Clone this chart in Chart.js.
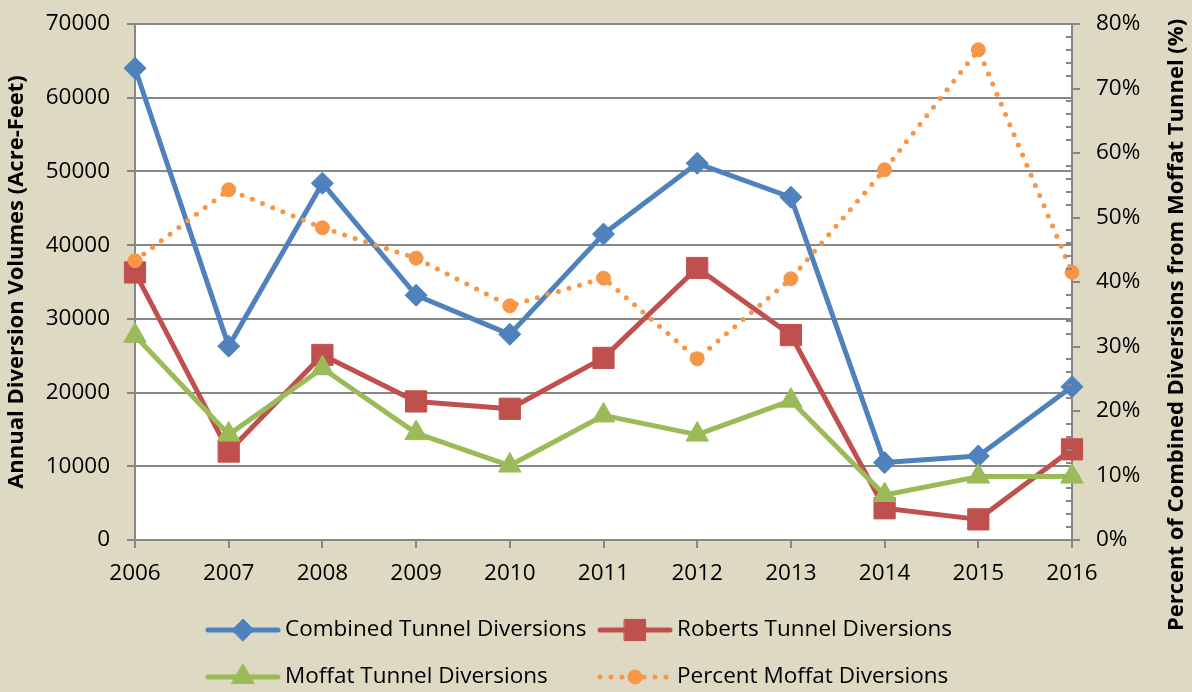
<!DOCTYPE html>
<html>
<head>
<meta charset="utf-8">
<script src="https://cdn.jsdelivr.net/npm/chart.js@4/dist/chart.umd.min.js"></script>
<style>
  html, body { margin: 0; padding: 0; background: #ddd9c3; }
  #wrap { width: 1192px; height: 692px; }
</style>
</head>
<body>
<div id="wrap"><canvas id="myChart" width="1192" height="692"></canvas></div>
<script>
"use strict";

// #region Data
const years = ["2006", "2007", "2008", "2009", "2010", "2011", "2012", "2013", "2014", "2015", "2016"];
const combined = [64000, 26300, 48400, 33200, 27900, 41500, 51100, 46500, 10500, 11400, 20800];
const roberts = [36300, 12000, 25100, 18800, 17800, 24700, 36900, 27800, 4300, 2800, 12300];
const moffat = [27700, 14300, 23300, 14500, 10100, 16900, 14300, 18900, 6100, 8600, 8600];
const percentMoffat = [43.3, 54.3, 48.4, 43.7, 36.3, 40.6, 28.1, 40.5, 57.4, 76.0, 41.5];
const volumeTicks = [0, 10000, 20000, 30000, 40000, 50000, 60000, 70000];
const percentTicks = [0, 10, 20, 30, 40, 50, 60, 70, 80];
// #endregion

const FONT = "'Open Sans', 'Noto Sans', sans-serif";
const GRID = "#878787";
const TICK_SIZE = 22.5;

// beige canvas and white plot area
const backgroundPlugin = {
  id: "bg",
  beforeDraw: function (chart) {
    const ctx = chart.ctx, a = chart.chartArea;
    ctx.save();
    ctx.fillStyle = "#ddd9c3";
    ctx.fillRect(0, 0, chart.width, chart.height);
    ctx.fillStyle = "#ffffff";
    ctx.fillRect(a.left, a.top, a.right - a.left, a.bottom - a.top);
    ctx.restore();
  }
};

// minor ticks on the percent axis, right title, legend in a 2x2 grid
const extrasPlugin = {
  id: "extras",
  afterDraw: function (chart) {
    const ctx = chart.ctx, y1 = chart.scales.y1;
    ctx.save();
    ctx.strokeStyle = GRID;
    ctx.lineWidth = 2;
    for (let v = 0; v <= 80; v += 2) {
      if (v % 10 === 0) continue;
      const py = Math.round(y1.getPixelForValue(v));
      ctx.beginPath();
      ctx.moveTo(y1.left - 6, py);
      ctx.lineTo(y1.left, py);
      ctx.stroke();
    }

    ctx.fillStyle = "#000";
    ctx.font = "bold 22px " + FONT;
    ctx.textAlign = "center";
    ctx.textBaseline = "middle";
    ctx.translate(1177, 325);
    ctx.rotate(-Math.PI / 2);
    ctx.fillText("Percent of Combined Diversions from Moffat Tunnel (%)", 0, 0);
    ctx.restore();

    const cols = [208, 600], rows = [630, 677];
    chart.data.datasets.forEach(function (ds, i) {
      const x = cols[i % 2], y = rows[Math.floor(i / 2)];
      ctx.save();
      ctx.strokeStyle = ds.borderColor;
      ctx.lineWidth = ds.borderWidth;
      ctx.lineCap = ds.borderCapStyle || "round";
      if (ds.borderDash) ctx.setLineDash(ds.borderDash);
      ctx.beginPath();
      ctx.moveTo(x, y);
      ctx.lineTo(x + 70, y);
      ctx.stroke();
      ctx.setLineDash([]);
      ctx.fillStyle = ds.pointBackgroundColor;
      ctx.strokeStyle = ds.pointBorderColor;
      ctx.lineWidth = 1;
      Chart.helpers.drawPoint(ctx, { pointStyle: ds.pointStyle, rotation: 0, radius: ds.pointRadius, borderWidth: 1 }, x + 35, y);
      ctx.fillStyle = "#000";
      ctx.font = TICK_SIZE + "px " + FONT;
      ctx.textAlign = "left";
      ctx.textBaseline = "middle";
      ctx.fillText(ds.label, x + 77, y);
      ctx.restore();
    });
  }
};

function lineSet(label, data, color, style, radius, order) {
  return {
    label: label,
    data: data,
    yAxisID: "y",
    borderColor: color,
    backgroundColor: color,
    borderWidth: 5,
    borderCapStyle: "round",
    borderJoinStyle: "round",
    pointStyle: style,
    pointRadius: radius,
    pointHoverRadius: radius,
    pointBackgroundColor: color,
    pointBorderColor: color,
    pointBorderWidth: 1,
    tension: 0,
    order: order
  };
}

const datasets = [
  lineSet("Combined Tunnel Diversions", combined, "#4f81bd", "rectRot", 11, 4),
  lineSet("Roberts Tunnel Diversions", roberts, "#c0504d", "rect", 15, 3),
  lineSet("Moffat Tunnel Diversions", moffat, "#9bbb59", "triangle", 13, 2),
  {
    label: "Percent Moffat Diversions",
    data: percentMoffat,
    yAxisID: "y1",
    borderColor: "#f79646",
    backgroundColor: "#f79646",
    borderWidth: 5,
    borderDash: [0, 11],
    borderCapStyle: "round",
    pointStyle: "circle",
    pointRadius: 7,
    pointHoverRadius: 7,
    pointBackgroundColor: "#f79646",
    pointBorderColor: "#f79646",
    pointBorderWidth: 1,
    tension: 0,
    order: 1
  }
];

new Chart(document.getElementById("myChart"), {
  type: "line",
  data: { labels: years, datasets: datasets },
  plugins: [backgroundPlugin, extrasPlugin],
  options: {
    responsive: false,
    devicePixelRatio: 1,
    animation: false,
    layout: { padding: { top: 24, left: 0, right: 0, bottom: 0 } },
    plugins: { legend: { display: false }, tooltip: { enabled: false } },
    scales: {
      x: {
        type: "category",
        offset: false,
        afterFit: function (s) { s.height = 152; },
        grid: { drawOnChartArea: false, drawTicks: true, tickLength: 8, color: GRID, lineWidth: 2 },
        border: { display: true, color: GRID, width: 2 },
        ticks: { color: "#000", font: { family: FONT, size: TICK_SIZE }, padding: 12, maxRotation: 0, autoSkip: false }
      },
      y: {
        position: "left",
        min: 0,
        max: 70000,
        afterFit: function (s) { s.width = 135; },
        afterBuildTicks: function (s) { s.ticks = volumeTicks.map(v => ({ value: v })); },
        grid: { color: GRID, lineWidth: 2, tickLength: 8 },
        border: { display: true, color: GRID, width: 2 },
        title: { display: true, text: "Annual Diversion Volumes (Acre-Feet)", color: "#000", font: { family: FONT, size: 22, weight: "bold" }, padding: { top: 4, bottom: 0 } },
        ticks: { color: "#000", font: { family: FONT, size: TICK_SIZE, lineHeight: 0.6 }, padding: 17, callback: v => String(v) }
      },
      y1: {
        position: "right",
        min: 0,
        max: 80,
        afterFit: function (s) { s.width = 120; },
        afterBuildTicks: function (s) { s.ticks = percentTicks.map(v => ({ value: v })); },
        grid: { drawOnChartArea: false, color: GRID, lineWidth: 2, tickLength: 8 },
        border: { display: true, color: GRID, width: 2 },
        ticks: { color: "#000", font: { family: FONT, size: TICK_SIZE, lineHeight: 0.6 }, padding: 16, callback: v => v + "%" }
      }
    }
  }
});
</script>
</body>
</html>
